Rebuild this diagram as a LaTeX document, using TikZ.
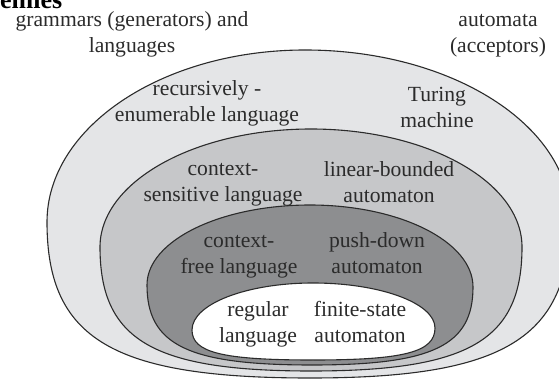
\documentclass[tikz,border=0pt]{standalone}
\usepackage{fontspec}
\setmainfont{Liberation Serif}
\definecolor{inkgray}{HTML}{2B2B2B}
\definecolor{ringA}{HTML}{E4E5E7}
\definecolor{ringB}{HTML}{C6C7C9}
\definecolor{ringC}{HTML}{8D8E90}
\definecolor{ringD}{HTML}{FFFFFF}
% closed egg-like outline through left, top, right and bottom points;
% \kt / \kb set the roundness of the upper / lower halves
\newcommand\kt{0.552}
\newcommand\kb{0.75}
\newcommand\eggpath[8]{%
  (#1,#2) .. controls (#1,{#2+\kt*(#4-#2)}) and ({#3-\kt*(#3-#1)},#4) .. (#3,#4)
  .. controls ({#3+\kt*(#5-#3)},#4) and (#5,{#6+\kt*(#4-#6)}) .. (#5,#6)
  .. controls (#5,{#6+\kb*(#8-#6)}) and ({#7+\kb*(#5-#7)},#8) .. (#7,#8)
  .. controls ({#7-\kb*(#7-#1)},#8) and (#1,{#2+\kb*(#8-#2)}) .. cycle}
\begin{document}
\begin{tikzpicture}[x=1pt,y=-1pt,
  outline/.style={draw=inkgray,line width=1.1pt},
  % two-line labels, placed by the baseline of their last line
  lbl/.style={font=\fontsize{21.6}{26}\selectfont,text=inkgray,align=center,anchor=base,inner sep=0pt}]
  \useasboundingbox (0,0) rectangle (559,379);
  \clip (0,0) rectangle (559,379);

  % nested classes, outermost first
  \path[outline,fill=ringA] \eggpath{47}{222}{305}{50}{570}{218}{310}{378};
  \path[outline,fill=ringB] \eggpath{100}{247}{311}{129}{522}{247}{311}{371};
  \path[outline,fill=ringC] \eggpath{147}{285}{310}{205}{473}{287}{312}{365};
  \path[outline,fill=ringD] \eggpath{192}{330}{313}{283}{435}{328}{313}{360};

  % heading, partly cut off at the top
  \node[anchor=base west,inner sep=0pt,text=black,font=\fontsize{26}{30}\selectfont\bfseries] (head) at (0,9) {emies};

  % column headers
  \node[lbl] (gram) at (132,53) {grammars (generators) and\\languages};
  \node[lbl] (auto) at (498,53) {automata\\(acceptors)};

  % language classes and their machines
  \node[lbl] (re)  at (207,122) {recursively -\\enumerable language};
  \node[lbl] (tm)  at (437,128) {Turing\\machine};
  \node[lbl] (cs)  at (223,202) {context-\\sensitive language};
  \node[lbl] (lba) at (389,203) {linear-bounded\\automaton};
  \node[lbl] (cf)  at (239,273) {context-\\free language};
  \node[lbl] (pda) at (377,273) {push-down\\automaton};
  \node[lbl] (reg) at (258,342) {regular\\language};
  \node[lbl] (fsa) at (360,342) {finite-state\\automaton};
\end{tikzpicture}
\end{document}
